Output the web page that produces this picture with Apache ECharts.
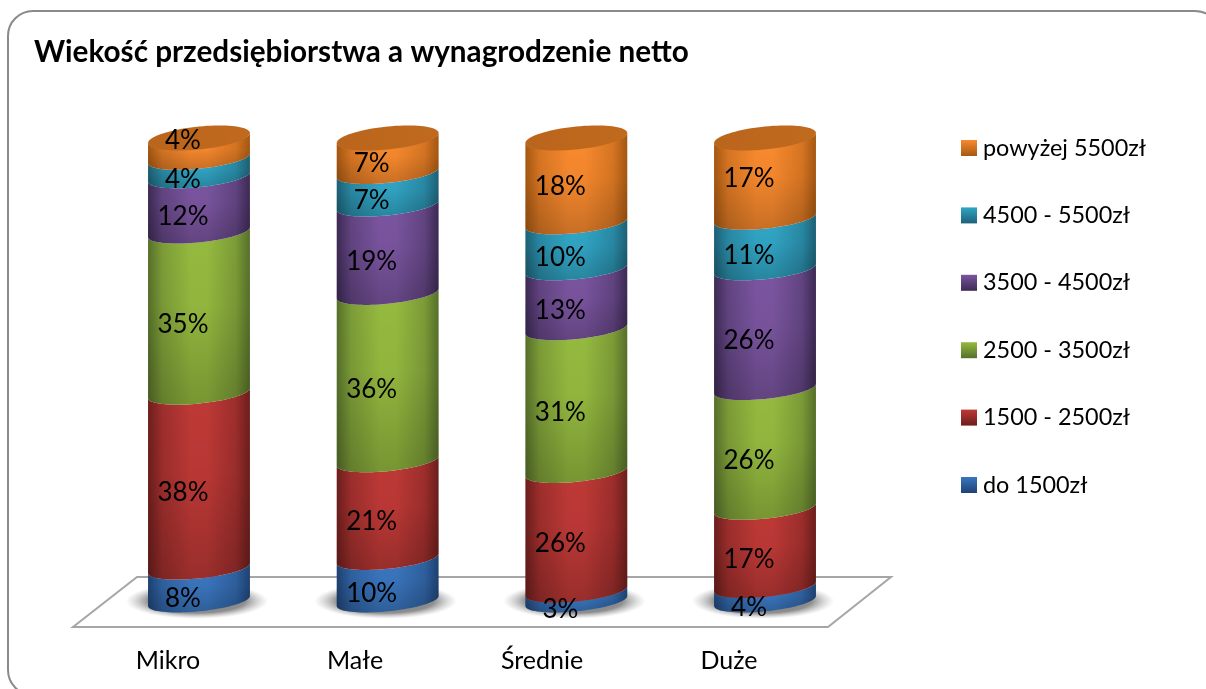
<!DOCTYPE html>
<html><head><meta charset="utf-8">
<style>html,body{margin:0;padding:0;background:#fff}#c{width:1206px;height:689px}</style>
<script src="https://cdn.jsdelivr.net/npm/echarts@6/dist/echarts.min.js"></script>
</head><body><div id="c"></div>
<script>
const titleText = 'Wiekość przedsiębiorstwa a wynagrodzenie netto';
const categories = ['Mikro', 'Małe', 'Średnie', 'Duże'];
const bandNames = ['do 1500zł', '1500 - 2500zł', '2500 - 3500zł', '3500 - 4500zł', '4500 - 5500zł', 'powyżej 5500zł'];
const do1500 = [8, 10, 3, 4];
const od1500 = [38, 21, 26, 17];
const od2500 = [35, 36, 31, 26];
const od3500 = [12, 19, 13, 26];
const od4500 = [4, 7, 10, 11];
const pow5500 = [4, 7, 18, 17];
const bands = [do1500, od1500, od2500, od3500, od4500, pow5500];
// colours: [centre, edge]
const palette = [['#3A76BF','#1E4272'],['#BE3936','#6C1E1C'],['#95BA3F','#56702A'],['#7B55A0','#3D2A54'],['#31A6C6','#1D6176'],['#F98A2E','#A65812']];
const topLabelNudge = [-21, -5, -7, -13];

function mix(a, b, t) {
  const p = s => [1, 3, 5].map(i => parseInt(s.substr(i, 2), 16));
  const x = p(a), y = p(b);
  return 'rgb(' + x.map((v, i) => Math.round(v + (y[i] - v) * t)).join(',') + ')';
}
const totals = categories.map((_, i) => bands.reduce((s, b) => s + b[i], 0));
function rows(k) {
  return categories.map((_, i) => {
    let below = 0;
    for (let j = 0; j < k; j++) below += bands[j][i];
    return [i, below / totals[i] * 100, (below + bands[k][i]) / totals[i] * 100, bands[k][i]];
  });
}
function lowerArc(cx, cy, rx, ry, tilt, n) {
  const p = [];
  for (let i = 0; i <= n; i++) {
    const u = -Math.cos(Math.PI * i / n);
    p.push([cx + rx * u, cy - tilt * u + ry * Math.sqrt(Math.max(0, 1 - u * u))]);
  }
  return p;
}
function upperArc(cx, cy, rx, ry, tilt, n) {
  const p = [];
  for (let i = 0; i <= n; i++) {
    const u = Math.cos(Math.PI * i / n);
    p.push([cx + rx * u, cy - tilt * u - ry * Math.sqrt(Math.max(0, 1 - u * u))]);
  }
  return p;
}
const RY = 10.3, TILT = 5;
function makeRender(k) {
  return function (params, api) {
    const i = api.value(0);
    const a = api.coord([i, api.value(1)]);
    const b = api.coord([i, api.value(2)]);
    const rx = api.size([1, 0])[0] * 0.27;
    const cx = a[0];
    let y0 = a[1], y1 = b[1];
    if (k === 0) y0 -= 4;
    if (k === bands.length - 1) y1 -= 2;
    const top = lowerArc(cx, y1, rx, RY, TILT, 40);
    const bot = lowerArc(cx, y0, rx, RY, TILT, 40);
    const outline = bot.concat(top.slice().reverse());
    const [c, e] = palette[k];
    const dim = mix(c, e, 0.4);
    const children = [];
    if (k === 0) {
      children.push({
        type: 'circle', z2: -5, silent: true,
        x: cx - 2, y: y0, scaleX: 1, scaleY: 0.25,
        shape: { cx: 0, cy: 0, r: rx * 1.4 },
        style: { fill: { type: 'radial', x: 0.5, y: 0.5, r: 0.5, colorStops: [{ offset: 0, color: 'rgba(95,95,95,0.9)' }, { offset: 0.68, color: 'rgba(115,115,115,0.8)' }, { offset: 1, color: 'rgba(170,170,170,0)' }] } }
      });
    }
    children.push({
      type: 'polygon', z2: 1, shape: { points: outline },
      style: { fill: { type: 'linear', x: 0, y: 0, x2: 1, y2: 0, colorStops: [{ offset: 0, color: e }, { offset: 0.14, color: dim }, { offset: 0.42, color: c }, { offset: 0.58, color: c }, { offset: 0.86, color: dim }, { offset: 1, color: e }] } }
    });
    children.push({
      type: 'polygon', z2: 2, silent: true, shape: { points: outline },
      style: { fill: { type: 'linear', x: 0, y: 0, x2: 0, y2: 1, colorStops: [{ offset: 0, color: 'rgba(0,0,0,0)' }, { offset: 0.45, color: 'rgba(0,0,0,0.03)' }, { offset: 1, color: 'rgba(0,0,0,0.2)' }] } }
    });
    if (k === bands.length - 1) {
      children.push({
        type: 'polygon', z2: 3, silent: true,
        shape: { points: lowerArc(cx, y1, rx, 11.5, TILT, 40).concat(upperArc(cx, y1, rx, 11.5, TILT, 40).slice(1, -1)) },
        style: { fill: { type: 'linear', x: 0, y: 0, x2: 1, y2: 0, colorStops: [{ offset: 0, color: '#BA651C' }, { offset: 1, color: '#C06A1E' }] } }
      });
    }
    let ly = (a[1] + b[1]) / 2 + 12;
    if (k === bands.length - 1) ly += topLabelNudge[i];
    children.push({
      type: 'text', z2: 50, silent: true,
      style: { x: cx - 16, y: ly, text: api.value(3) + '%', fill: '#000', font: '26px Lato', align: 'center', verticalAlign: 'middle' }
    });
    return { type: 'group', children };
  };
}
const series = bands.map((_, k) => ({
  name: bandNames[k],
  type: 'custom',
  xAxisIndex: 0, yAxisIndex: 0,
  coordinateSystem: 'cartesian2d',
  renderItem: makeRender(k),
  data: rows(k),
  encode: { x: 0, y: [1, 2] },
  itemStyle: { color: palette[k][0] },
  silent: true
}));
const chart = echarts.init(document.getElementById('c'), null, { renderer: 'canvas' });
chart.setOption({
  animation: false,
  backgroundColor: '#fff',
  textStyle: { fontFamily: 'Lato' },
  title: { text: titleText, left: 34, top: 37, padding: 0, textStyle: { fontFamily: 'Lato', fontWeight: 'bold', fontSize: 29.7, color: '#000' } },
  legend: {
    orient: 'vertical', left: 961, top: 135, padding: 0, itemWidth: 16, itemHeight: 16, itemGap: 41.4, selectedMode: false,
    data: bandNames.slice().reverse().map(n => {
      const k = bandNames.indexOf(n);
      return { name: n, icon: 'rect', itemStyle: { color: { type: 'linear', x: 0, y: 0, x2: 0, y2: 1, colorStops: [{ offset: 0, color: palette[k][0] }, { offset: 1, color: palette[k][1] }] } } };
    }),
    textStyle: { fontFamily: 'Lato', fontSize: 23.4, color: '#000', padding: [0, 0, 0, 1], lineHeight: 26 }
  },
  grid: [
    { left: 104.65, width: 754.7, top: 140, height: 465 },
    { left: 74.5, width: 748, top: 400, height: 227 }
  ],
  xAxis: [
    { type: 'category', gridIndex: 0, data: categories, show: false },
    { type: 'category', gridIndex: 1, data: categories, axisLine: { show: false }, axisTick: { show: false }, axisLabel: { fontFamily: 'Lato', fontSize: 25, color: '#000', margin: 21 } }
  ],
  yAxis: [
    { type: 'value', gridIndex: 0, min: 0, max: 100, show: false },
    { type: 'value', gridIndex: 1, min: 0, max: 100, show: false }
  ],
  graphic: [
    { type: 'rect', z: -10, silent: true, shape: { x: 8, y: 11, width: 1212, height: 684, r: 25 }, style: { fill: '#fff', stroke: '#8a8a8a', lineWidth: 2 } },
    { type: 'polygon', z: -9, silent: true, shape: { points: [[73, 627], [137, 577], [891, 577], [828, 627]] }, style: { fill: '#fff', stroke: '#a6a6a6', lineWidth: 2 } }
  ],
  series
});
</script></body></html>
